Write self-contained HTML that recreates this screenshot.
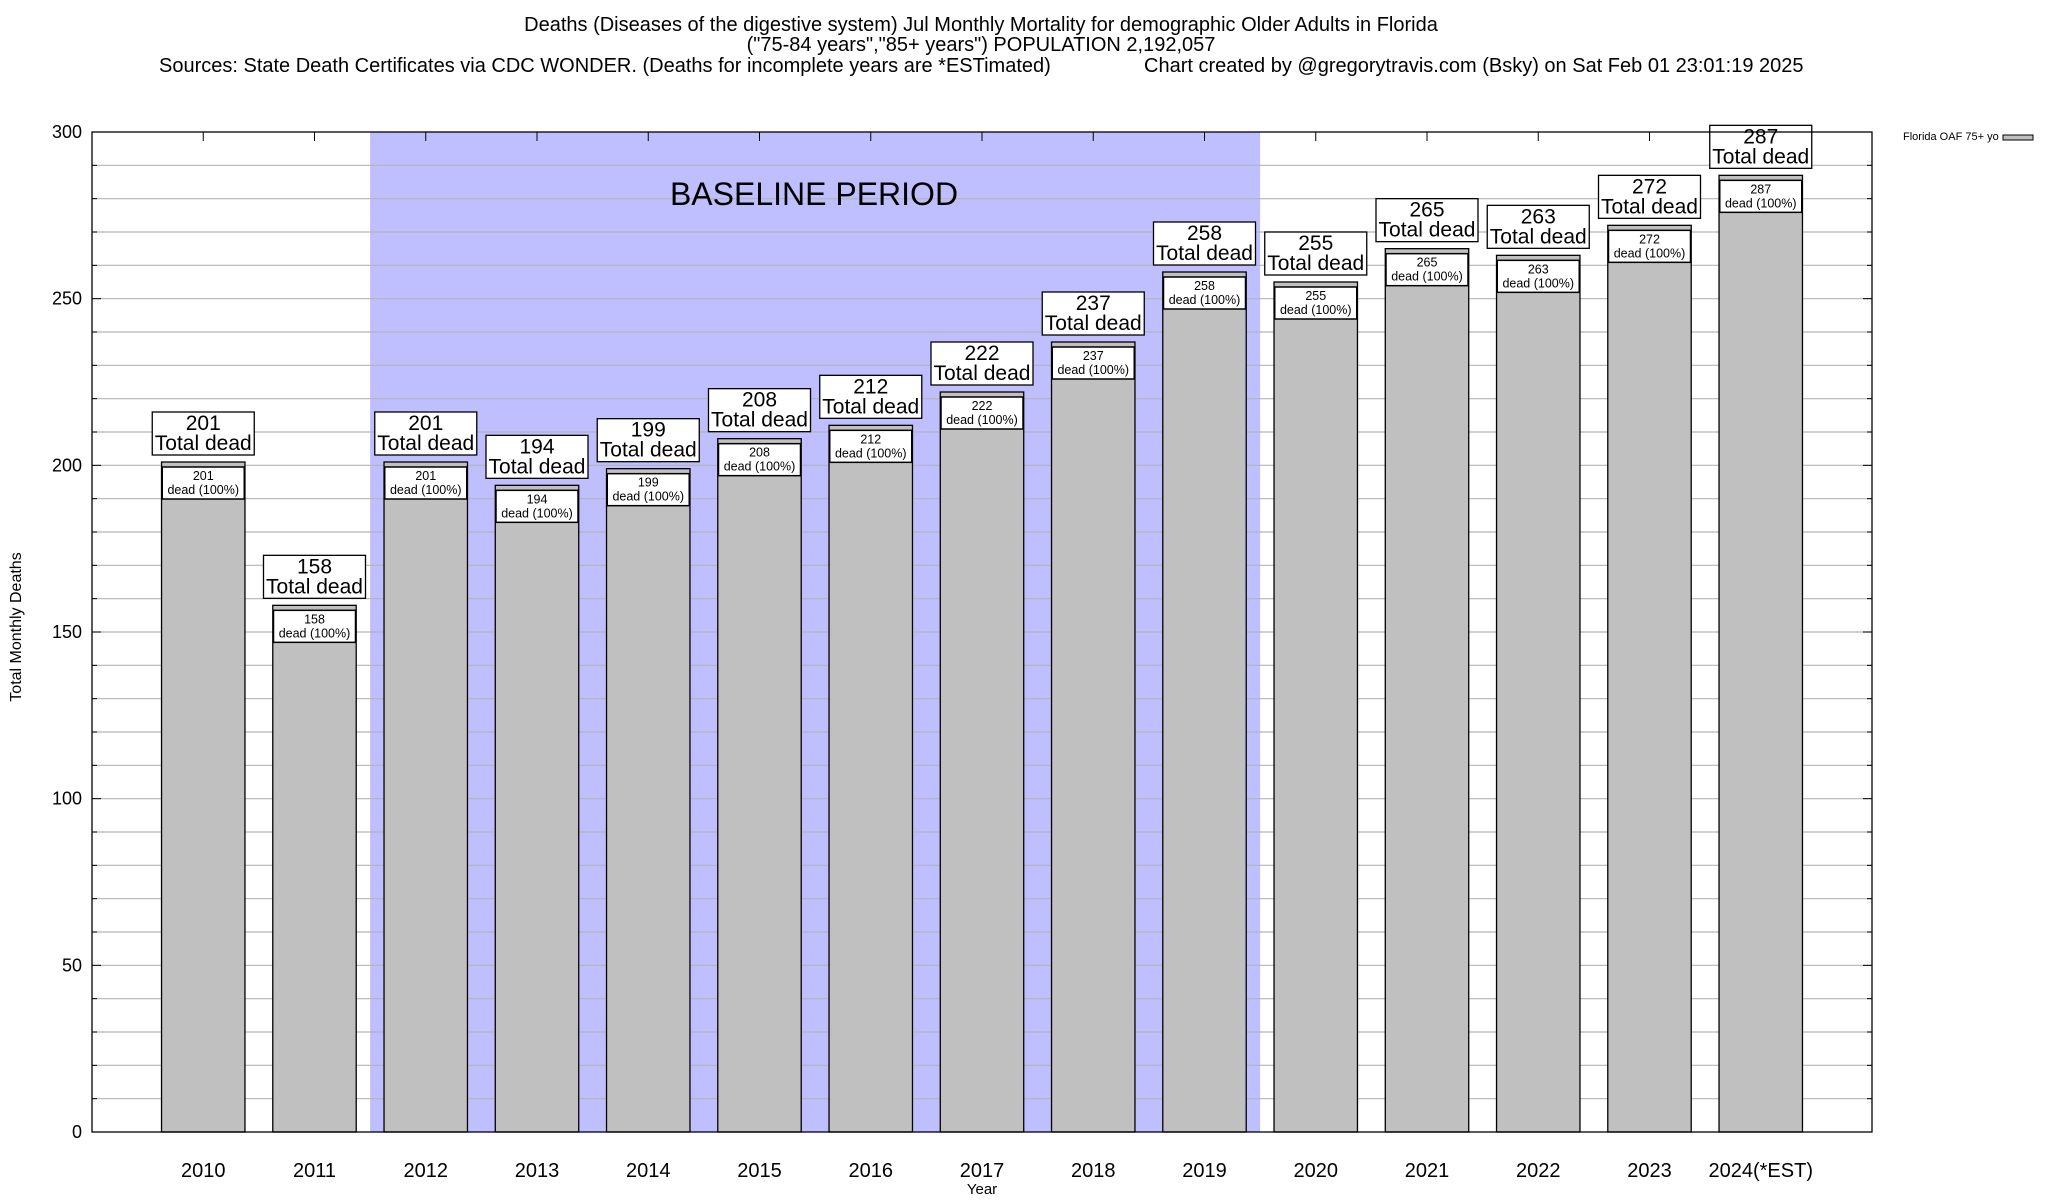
<!DOCTYPE html>
<html><head><meta charset="utf-8"><style>
html,body{margin:0;padding:0;background:#fff;}
svg{display:block;font-family:"Liberation Sans",Arial,sans-serif;}
</style></head><body>
<svg id="chart" width="2048" height="1200" viewBox="0 0 2048 1200" xmlns="http://www.w3.org/2000/svg">
<g font-size="20" text-anchor="middle" fill="#000">
<text x="981" y="31">Deaths (Diseases of the digestive system) Jul Monthly Mortality for demographic Older Adults in Florida</text>
<text x="981" y="51">("75-84 years","85+ years") POPULATION 2,192,057</text>
<text x="159" y="72" text-anchor="start">Sources: State Death Certificates via CDC WONDER. (Deaths for incomplete years are *ESTimated)</text>
<text x="1144" y="72" text-anchor="start">Chart created by @gregorytravis.com (Bsky) on Sat Feb 01 23:01:19 2025</text>
</g>
<g id="band"></g>
<g id="grid"></g>
<g id="bars"></g>
<rect x="92" y="132" width="1780" height="1000" fill="none" stroke="#000" stroke-width="1.3"/>
<text x="814" y="205" font-size="32" text-anchor="middle">BASELINE PERIOD</text>
<text x="982" y="1194" font-size="15" text-anchor="middle">Year</text>
<text transform="translate(21,627) rotate(-90)" font-size="16" text-anchor="middle">Total Monthly Deaths</text>
<g>
<text x="1903" y="140" font-size="11">Florida OAF 75+ yo</text>
<rect x="2003" y="135" width="30" height="5" fill="#c0c0c0" stroke="#000" stroke-width="1"/>
</g>
</svg>
<script>
const categories=["2010","2011","2012","2013","2014","2015","2016","2017","2018","2019","2020","2021","2022","2023","2024(*EST)"];
const values=[201,158,201,194,199,208,212,222,237,258,255,265,263,272,287];
const yTicks=[0,50,100,150,200,250,300];
const baselineStart=2, baselineEnd=9;
const NS="http://www.w3.org/2000/svg";
const L=92,R=1872,T=132,B=1132,yMax=300;
const slot=(R-L)/16;
function xC(i){return L+(i+1)*slot;}
function yS(v){return B-(v/yMax)*(B-T);}
function mk(tag,attrs,parent,txt){const e=document.createElementNS(NS,tag);for(const k in attrs)e.setAttribute(k,attrs[k]);if(txt!==undefined)e.textContent=txt;parent.appendChild(e);return e;}
const band=document.getElementById('band'),grid=document.getElementById('grid'),bars=document.getElementById('bars');
const bx0=xC(baselineStart)-slot/2,bx1=xC(baselineEnd)+slot/2;
const br=mk('rect',{x:bx0,y:T,width:bx1-bx0,height:B-T,fill:'#bfbfff'},band);


for(let v=10;v<yMax;v+=10){const y=yS(v);
const g=mk('line',{x1:L,x2:R,y1:y,y2:y,stroke:'#b4b4b4','stroke-width':1.2},grid);


const tl=v%50===0?9:5;
mk('line',{x1:L,x2:L+tl,y1:y,y2:y,stroke:'#000'},grid);
mk('line',{x1:R-tl,x2:R,y1:y,y2:y,stroke:'#000'},grid);}
yTicks.forEach(v=>{const t=mk('text',{x:L-10,y:yS(v)+6,'font-size':18,'text-anchor':'end'},grid,String(v));

});
const bw=slot*0.75;
categories.forEach((c,i)=>{const v=values[i];const cx=xC(i);const y=yS(v);
mk('line',{x1:cx,x2:cx,y1:T,y2:T+9,stroke:'#000'},grid);
const r=mk('rect',{x:cx-bw/2,y:y,width:bw,height:B-y,fill:'#c0c0c0',stroke:'#000','stroke-width':1.3},bars);


const ib=mk('rect',{x:cx-41,y:y+5,width:82,height:32,fill:'#fff',stroke:'#000','stroke-width':1.5},bars);


mk('text',{x:cx,y:y+18,'font-size':12.5,'text-anchor':'middle'},bars,String(v));
mk('text',{x:cx,y:y+32,'font-size':12.5,'text-anchor':'middle'},bars,'dead (100%)');
const ob=mk('rect',{x:cx-51,y:y-50,width:102,height:43,fill:'#fff',stroke:'#000','stroke-width':1.3},bars);


mk('text',{x:cx,y:y-32,'font-size':21,'text-anchor':'middle'},bars,String(v));
mk('text',{x:cx,y:y-12,'font-size':21,'text-anchor':'middle'},bars,'Total dead');
const xl=mk('text',{x:cx,y:1177,'font-size':20,'text-anchor':'middle'},bars,c);

});
</script>
</body></html>
